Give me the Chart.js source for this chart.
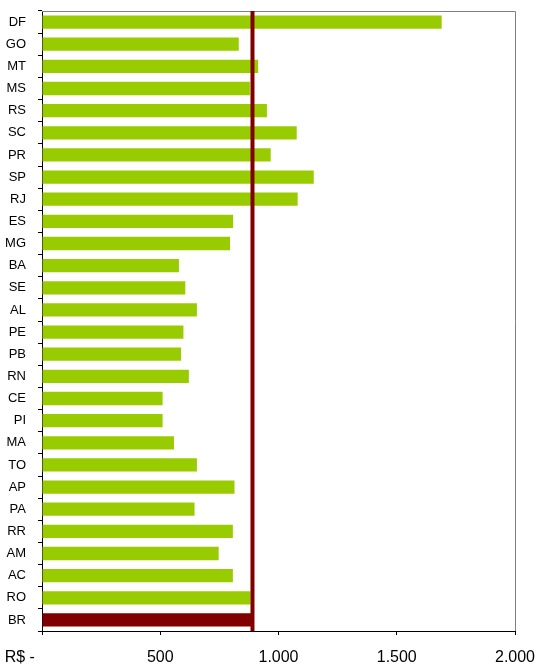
<!DOCTYPE html>
<html>
<head>
<meta charset="utf-8">
<script src="https://cdn.jsdelivr.net/npm/chart.js@4"></script>
<style>
  html, body { margin: 0; padding: 0; background: #fff; }
  #wrap { width: 541px; height: 664px; position: relative; }
</style>
</head>
<body>
<div id="wrap"><canvas id="rendaChart"></canvas></div>
<script>
// UFs, de cima para baixo, e o total Brasil no fim
var estados = ["DF", "GO", "MT", "MS", "RS", "SC", "PR", "SP", "RJ", "ES", "MG", "BA", "SE", "AL",
    "PE", "PB", "RN", "CE", "PI", "MA", "TO", "AP", "PA", "RR", "AM", "AC", "RO", "BR"];
var valores = [1690, 832, 914, 879, 951, 1077, 967, 1149, 1081, 808, 795, 579, 606, 655,
    598, 588, 621, 510, 510, 558, 655, 814, 645, 807, 747, 807, 882, 890];
var mediaBrasil = 890;
var xTicks = [0, 500, 1000, 1500, 2000];

var verde = "#99cc00";
var vinho = "#800000";

function formatBR(v) {
    if (v === 0) return "R$ -          ";
    return String(v).replace(/\B(?=(\d{3})+(?!\d))/g, ".");
}

// linha vertical da media + moldura cinza em cima e a direita
var extrasPlugin = {
    id: 'extras',
    afterDatasetsDraw: function (chart) {
        var ctx = chart.ctx;
        var area = chart.chartArea;
        var x = chart.scales.x.getPixelForValue(mediaBrasil);
        ctx.save();
        ctx.strokeStyle = "#808080";
        ctx.lineWidth = 1;
        ctx.beginPath();
        ctx.moveTo(area.left, area.top + 0.5);
        ctx.lineTo(area.right + 0.5, area.top + 0.5);
        ctx.lineTo(area.right + 0.5, area.bottom);
        ctx.stroke();
        ctx.strokeStyle = vinho;
        ctx.lineWidth = 4;
        ctx.beginPath();
        ctx.moveTo(x, area.top);
        ctx.lineTo(x, area.bottom);
        ctx.stroke();
        ctx.restore();
    }
};

var ctx = document.getElementById('rendaChart').getContext('2d');
new Chart(ctx, {
    type: 'bar',
    data: {
        labels: estados,
        datasets: [{
            data: valores,
            backgroundColor: estados.map(function (e) { return e === "BR" ? vinho : verde; }),
            borderWidth: 0,
            categoryPercentage: 1.0,
            barPercentage: 0.6
        }]
    },
    options: {
        indexAxis: 'y',
        responsive: true,
        maintainAspectRatio: false,
        animation: false,
        layout: { padding: { top: 11, right: 0, left: 0, bottom: 0 } },
        plugins: {
            legend: { display: false },
            tooltip: { enabled: false }
        },
        scales: {
            x: {
                min: 0,
                max: 2000,
                afterBuildTicks: function (scale) {
                    scale.ticks = xTicks.map(function (v) { return { value: v }; });
                },
                afterFit: function (scale) {
                    scale.height = 33;
                    scale.paddingLeft = 0;
                    scale.paddingRight = 26;
                },
                grid: {
                    drawOnChartArea: false,
                    drawTicks: true,
                    tickLength: 4,
                    color: "#000"
                },
                border: { display: true, color: "#000", width: 1 },
                ticks: {
                    callback: function (v) { return formatBR(v); },
                    color: "#000",
                    font: { family: "'Liberation Sans', Arial, sans-serif", size: 16 },
                    padding: 13,
                    maxRotation: 0
                }
            },
            y: {
                afterFit: function (scale) {
                    scale.width = 42;
                    scale.paddingTop = 0;
                    scale.paddingBottom = 0;
                },
                grid: {
                    drawOnChartArea: false,
                    drawTicks: true,
                    tickLength: 4,
                    color: "#000"
                },
                border: { display: true, color: "#000", width: 1 },
                ticks: {
                    color: "#000",
                    font: { family: "'Liberation Sans', Arial, sans-serif", size: 13 },
                    padding: 12,
                    autoSkip: false
                }
            }
        }
    },
    plugins: [extrasPlugin]
});
</script>
</body>
</html>
